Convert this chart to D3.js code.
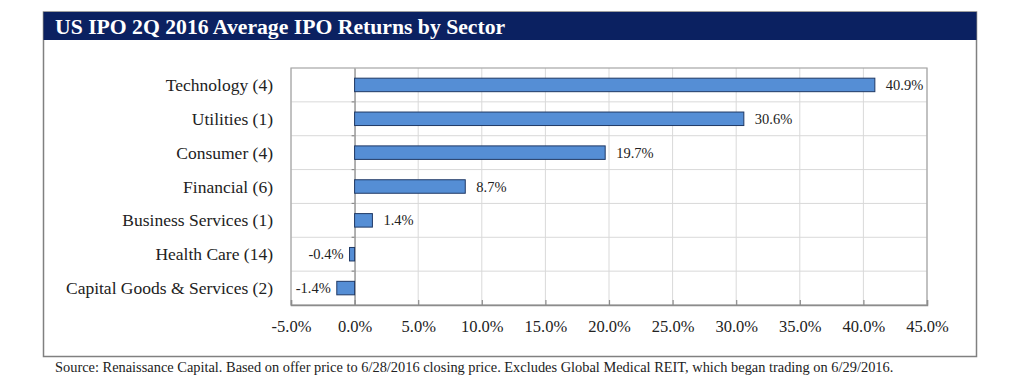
<!DOCTYPE html>
<html><head><meta charset="utf-8">
<script src="https://cdn.jsdelivr.net/npm/d3@7"></script>
<style>body{margin:0;background:#fff}svg{display:block}</style>
</head><body>
<svg id="c" width="1024" height="389"></svg>
<script>
const title = "US IPO 2Q 2016 Average IPO Returns by Sector";
const footnote = "Source: Renaissance Capital. Based on offer price to 6/28/2016 closing price. Excludes Global Medical REIT, which began trading on 6/29/2016.";
const categories = ["Technology (4)","Utilities (1)","Consumer (4)","Financial (6)","Business Services (1)","Health Care (14)","Capital Goods & Services (2)"];
const values = [40.9, 30.6, 19.7, 8.7, 1.4, -0.4, -1.4];
const xTicks = [-5,0,5,10,15,20,25,30,35,40,45];

const svg = d3.select("#c");
const font = "'Liberation Serif', 'DejaVu Serif', serif";
const box = {l:43.5, t:12, r:976.5, b:356.5};
const m = {l:291, t:68, r:927, b:305};

// outer frame
svg.append("rect").attr("x",box.l).attr("y",box.t).attr("width",box.r-box.l).attr("height",box.b-box.t)
  .attr("fill","#fff").attr("stroke","#808080").attr("stroke-width",1.5);
svg.append("rect").attr("x",box.l).attr("y",box.t).attr("width",box.r-box.l).attr("height",28).attr("fill","#0B2161");
svg.append("text").attr("x",55).attr("y",33.5).attr("fill","#fff").attr("font-family",font)
  .attr("font-weight","bold").attr("font-size",21.7).text(title);

const x = d3.scaleLinear().domain([-5,45]).range([m.l,m.r]);
const y = d3.scaleBand().domain(categories).range([m.t,m.b]).paddingInner(0).paddingOuter(0);

const g = svg.append("g");
g.selectAll(".vg").data(xTicks).join("line").attr("x1",d=>x(d)).attr("x2",d=>x(d))
  .attr("y1",m.t).attr("y2",m.b).attr("stroke","#d9d9d9").attr("stroke-width",1);
g.selectAll(".hg").data(categories.slice(1)).join("line").attr("x1",m.l).attr("x2",m.r)
  .attr("y1",d=>y(d)).attr("y2",d=>y(d)).attr("stroke","#d9d9d9").attr("stroke-width",1);
g.append("rect").attr("x",m.l).attr("y",m.t).attr("width",m.r-m.l).attr("height",m.b-m.t)
  .attr("fill","none").attr("stroke","#a6a6a6").attr("stroke-width",1.2);

// x axis
const xAxis = d3.axisBottom(x).tickValues(xTicks).tickSize(-5).tickPadding(12)
  .tickFormat(d=>d.toFixed(1)+"%");
const ax = svg.append("g").attr("transform",`translate(0,${m.b})`).call(xAxis);
ax.select(".domain").attr("stroke","#8c8c8c").attr("stroke-width",1.5);
ax.selectAll(".tick line").attr("stroke","#8c8c8c").attr("stroke-width",1.2);
ax.selectAll(".tick text").attr("font-family",font).attr("font-size",16.5).attr("fill","#222").attr("dy","0.9em");

// y axis at zero
const yAxis = d3.axisLeft(y).tickSize(0).tickPadding(0).tickFormat("");
const ay = svg.append("g").attr("transform",`translate(${x(0)},0)`).call(yAxis);
ay.select(".domain").attr("stroke","#8c8c8c").attr("stroke-width",1.2);
ay.selectAll(".bt").data(categories.slice(1)).join("line").attr("x1",-3).attr("x2",0)
  .attr("y1",d=>y(d)).attr("y2",d=>y(d)).attr("stroke","#8c8c8c").attr("stroke-width",1.2);

// category labels
svg.append("g").selectAll("text").data(categories).join("text")
  .attr("x",273).attr("y",d=>y(d)+y.bandwidth()/2).attr("dy","0.35em")
  .attr("text-anchor","end").attr("font-family",font).attr("font-size",17.5).attr("fill","#222").text(d=>d);

// bars
const bh = 13.5;
svg.append("g").selectAll("rect").data(values).join("rect")
  .attr("x",(d)=>x(Math.min(0,d))).attr("width",d=>Math.abs(x(d)-x(0)))
  .attr("y",(d,i)=>y(categories[i])+y.bandwidth()/2-bh/2).attr("height",bh)
  .attr("fill","#558ED5").attr("stroke","#1F3864").attr("stroke-width",1);

// value labels
svg.append("g").selectAll("text").data(values).join("text")
  .attr("x",d=> d>=0 ? x(d)+11 : x(d)-6)
  .attr("y",(d,i)=>y(categories[i])+y.bandwidth()/2).attr("dy","0.35em")
  .attr("text-anchor",d=>d>=0?"start":"end")
  .attr("font-family",font).attr("font-size",14.5).attr("fill","#222")
  .text(d=>d.toFixed(1)+"%");

// footnote
svg.append("text").attr("x",55).attr("y",372).attr("font-family",font).attr("font-size",14.4)
  .attr("fill","#222").text(footnote);
</script>
</body></html>
